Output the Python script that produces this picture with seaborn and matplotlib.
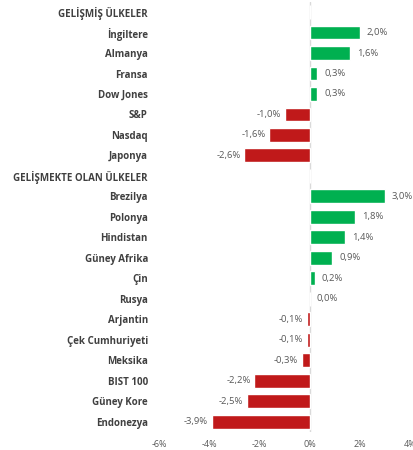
import matplotlib
matplotlib.use("Agg")
import matplotlib.pyplot as plt
import seaborn as sns
import pandas as pd
import numpy as np

sns.set_theme(style="white")
plt.rcParams['font.family'] = ['Open Sans', 'DejaVu Sans']

labels = ["GELİŞMİŞ ÜLKELER", "İngiltere", "Almanya", "Fransa", "Dow Jones", "S&P",
          "Nasdaq", "Japonya", "GELİŞMEKTE OLAN ÜLKELER", "Brezilya", "Polonya",
          "Hindistan", "Güney Afrika", "Çin", "Rusya", "Arjantin", "Çek Cumhuriyeti",
          "Meksika", "BIST 100", "Güney Kore", "Endonezya"]
values = [np.nan, 2.0, 1.6, 0.3, 0.3, -1.0, -1.6, -2.6, np.nan, 3.0, 1.8, 1.4, 0.9,
          0.2, 0.0, -0.1, -0.1, -0.3, -2.2, -2.5, -3.9]
xticks = [-6, -4, -2, 0, 2, 4]

GREEN = "#00B050"
RED = "#C0191A"
TEXT = "#404040"

df = pd.DataFrame({"label": labels, "value": values})
df["plot"] = df["value"].fillna(0)
palette = [RED if (v < 0) else GREEN for v in df["plot"]]

fig = plt.figure(figsize=(4.13, 4.5), dpi=100)
ax = fig.add_axes([0.385, 0.04, 0.608, 0.956])

sns.barplot(data=df, x="plot", y="label", hue="label", palette=palette,
            legend=False, orient="h", width=0.68, ax=ax, saturation=1)

ax.set_xlim(-6, 4)
ax.set_ylim(len(labels) - 0.5, -0.5)
ax.axvline(0, color="#D9D9D9", lw=1.0, zorder=0)

for i, v in enumerate(values):
    if np.isnan(v):
        continue
    txt = f"{v:.1f}%".replace(".", ",")
    if v >= 0:
        ax.text(v + 0.28, i, txt, va="center", ha="left", fontsize=6.8, color="#595959")
    else:
        ax.text(v - 0.15, i, txt, va="center", ha="right", fontsize=6.8, color="#595959")

ax.set_xticks(xticks)
ax.set_xticklabels([f"{t}%" for t in xticks], fontsize=6.5, color="#595959")
ax.tick_params(axis="x", length=0, pad=6)
ax.set_yticks(range(len(labels)))
ax.set_yticklabels(labels, fontsize=7, fontweight="bold", color=TEXT)
ax.tick_params(axis="y", length=0, pad=8)
ax.set_xlabel("")
ax.set_ylabel("")
for s in ax.spines.values():
    s.set_visible(False)

fig.savefig("out.png", dpi=100)
